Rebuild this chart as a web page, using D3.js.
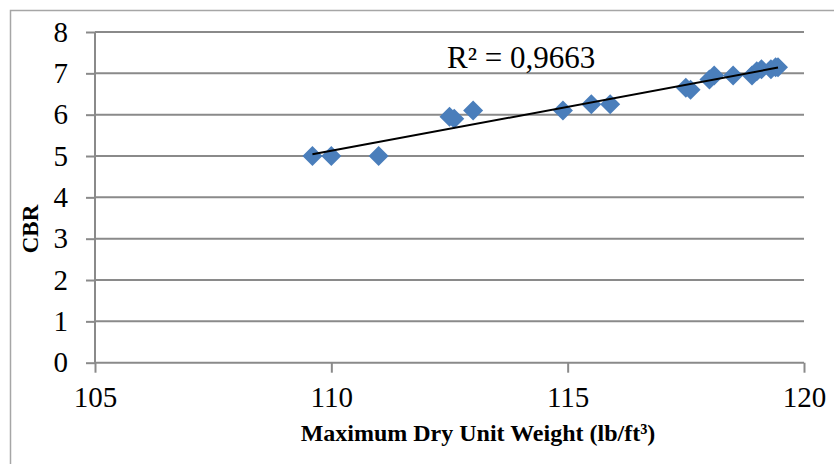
<!DOCTYPE html>
<html>
<head>
<meta charset="utf-8">
<script src="https://cdn.jsdelivr.net/npm/d3@7"></script>
<style>
  html, body { margin: 0; padding: 0; background: #fff; }
  svg { display: block; }
  svg text { font-family: 'Liberation Serif', 'Times New Roman', serif; }
</style>
</head>
<body>
<svg id="chart" width="834" height="464"></svg>
<script>
// Maximum dry unit weight (lb/ft³) and CBR of each sample
const weight = [109.6, 110.0, 111.0, 112.5, 112.6, 113.0, 114.9, 115.5, 115.9,
                117.5, 117.6, 118.0, 118.1, 118.5, 118.9, 119.0, 119.1, 119.3, 119.4, 119.45];
const cbr    = [5.0, 5.0, 5.0, 5.95, 5.9, 6.1, 6.1, 6.25, 6.25,
                6.65, 6.6, 6.85, 6.95, 6.95, 6.95, 7.05, 7.1, 7.1, 7.15, 7.15];
const xTicks = [105, 110, 115, 120];
const yTicks = [0, 1, 2, 3, 4, 5, 6, 7, 8];
const rSquaredLabel = "R² = 0,9663";

const svg = d3.select("#chart");
const serif = "'Liberation Serif', 'Times New Roman', serif";

// chart frame (left and top edges)
svg.append("path")
  .attr("d", "M10.5,464 L10.5,10.5 L834,10.5")
  .attr("fill", "none").attr("stroke", "#a6a6a6").attr("stroke-width", 1.5);

const x = d3.scaleLinear().domain([105, 120]).range([95, 804]);
const y = d3.scaleLinear().domain([0, 8]).range([362.7, 32]);

// horizontal gridlines
svg.append("g").selectAll("line").data(yTicks.filter(d => d > 0)).join("line")
  .attr("x1", x(105)).attr("x2", x(120))
  .attr("y1", d => y(d)).attr("y2", d => y(d))
  .attr("stroke", "#8a8a8a").attr("stroke-width", 2);

// y axis
const yAxis = svg.append("g").attr("transform", `translate(${x(105)},0)`)
  .call(d3.axisLeft(y).tickValues(yTicks).tickSize(9).tickPadding(18).tickFormat(d3.format("d")));
// x axis
const xAxis = svg.append("g").attr("transform", `translate(0,${y(0)})`)
  .call(d3.axisBottom(x).tickValues(xTicks).tickSize(10).tickPadding(14).tickFormat(d3.format("d")));

[yAxis, xAxis].forEach(g => {
  g.attr("font-family", serif).attr("font-size", 29);
  g.select(".domain").attr("stroke", "#8a8a8a").attr("stroke-width", 2);
  g.selectAll(".tick line").attr("stroke", "#8a8a8a").attr("stroke-width", 2);
  g.selectAll(".tick text").attr("fill", "#000")
    .style("font-family", serif).style("font-size", "29px");
});
xAxis.select(".domain").attr("d", `M${x(105)},0H${x(120)}`);
yAxis.select(".domain").attr("d", `M0,${y(0) - y(0)}V${y(8) - y(0)}`).attr("transform", `translate(0,${y(0)})`);

// data points as diamonds
const pts = weight.map((w, i) => ({ w, c: cbr[i] }));
svg.append("g").selectAll("path").data(pts).join("path")
  .attr("d", d3.symbol(d3.symbolSquare, 200))
  .attr("transform", d => `translate(${x(d.w)},${y(d.c)}) rotate(45)`)
  .attr("fill", "#4a7ebb");

// least-squares linear trendline
const mx = d3.mean(weight), my = d3.mean(cbr);
const slope = d3.sum(weight, (w, i) => (w - mx) * (cbr[i] - my)) / d3.sum(weight, w => (w - mx) ** 2);
const icpt = my - slope * mx;
const [x0, x1] = d3.extent(weight);
svg.append("line")
  .attr("x1", x(x0)).attr("y1", y(icpt + slope * x0))
  .attr("x2", x(x1)).attr("y2", y(icpt + slope * x1))
  .attr("stroke", "#000").attr("stroke-width", 2);

svg.append("text")
  .attr("x", 447).attr("y", 68)
  .style("font-family", serif).style("font-size", "31px")
  .text(rSquaredLabel);

// axis titles
svg.append("text")
  .attr("x", 478).attr("y", 441).attr("text-anchor", "middle")
  .style("font-family", serif).style("font-size", "24px").style("font-weight", "bold")
  .text("Maximum Dry Unit Weight (lb/ft³)");
svg.append("text")
  .attr("transform", "translate(38,229) rotate(-90)").attr("text-anchor", "middle")
  .style("font-family", serif).style("font-size", "23px").style("font-weight", "bold")
  .text("CBR");
</script>
</body>
</html>
